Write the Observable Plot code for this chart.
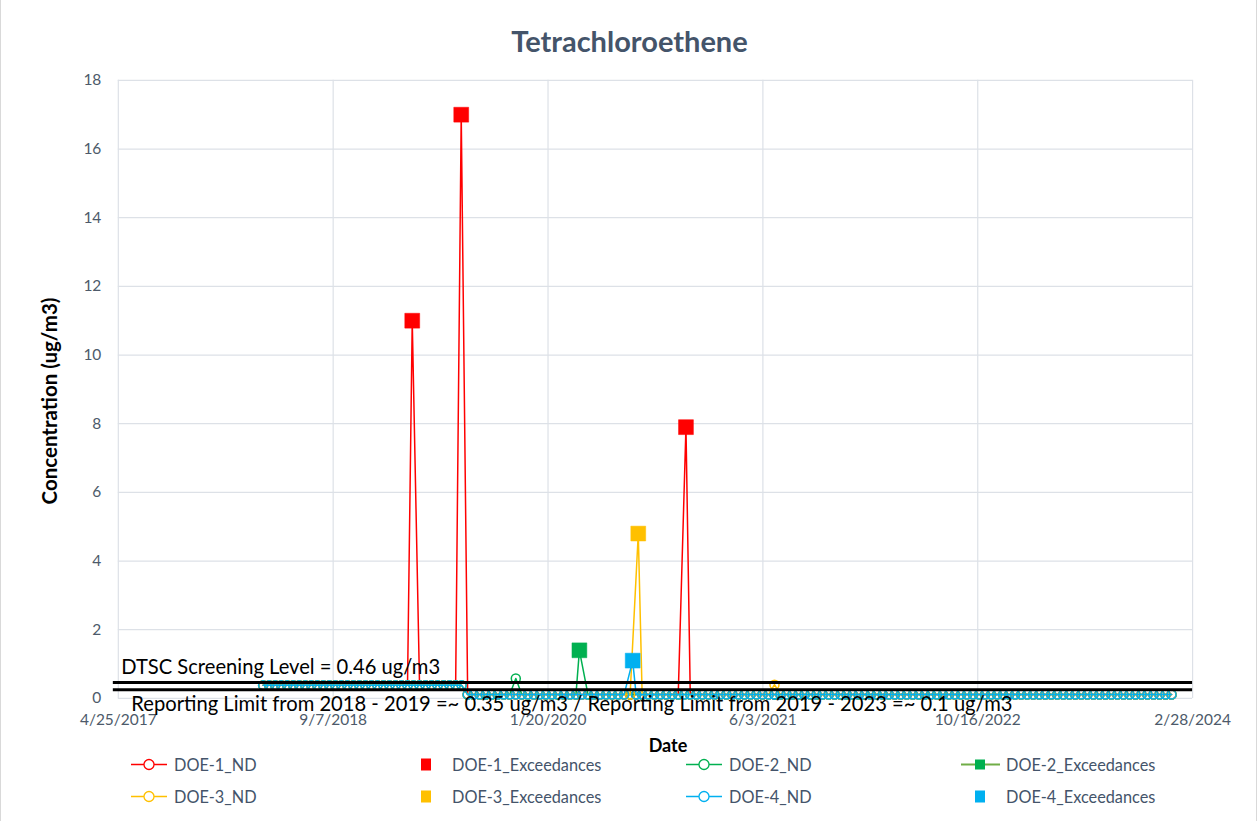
<!DOCTYPE html>
<html><head><meta charset="utf-8">
<script src="https://cdn.jsdelivr.net/npm/d3@7"></script>
<script src="https://cdn.jsdelivr.net/npm/@observablehq/plot@0.6"></script>
<style>
html,body{margin:0;padding:0;background:#fff;}
#wrap{position:relative;width:1257px;height:821px;overflow:hidden;font-family:Lato,"Open Sans",sans-serif;box-sizing:border-box;border-left:1px solid #d9d9d9;border-right:1px solid #d9d9d9;}
#chart{position:absolute;left:0;top:0;}
.title{position:absolute;left:0;width:1257px;top:40px;transform:translateY(-50%);text-align:center;font-weight:bold;font-size:29px;color:#44546a;}
.ylab{position:absolute;left:48px;top:401px;transform:translate(-50%,-50%) rotate(-90deg);font-weight:bold;font-size:20.5px;color:#000;white-space:nowrap;}
.xlab{position:absolute;left:667px;top:745px;transform:translate(-50%,-50%);font-weight:bold;font-size:18px;color:#000;}
.leg{position:absolute;display:flex;align-items:center;font-size:16.3px;color:#44546a;white-space:nowrap;transform:translateY(-50%);}
.leg svg{margin-right:6px;}
</style></head>
<body><div id="wrap"><div id="chart"></div></div>
<script>
// ---------------- data ----------------
const chartTitle = "Tetrachloroethene";
const yLabel = "Concentration (ug/m3)";
const xLabel = "Date";
const wells = ["DOE-1", "DOE-2", "DOE-3", "DOE-4"];
const wellColors = ["#FF0000", "#00B050", "#FFC000", "#00B0F0"];

const sampleDates = [
  "2018-03-28","2018-04-11","2018-04-25","2018-05-09","2018-05-23","2018-06-06","2018-06-20","2018-07-04","2018-07-18","2018-08-01",
  "2018-08-15","2018-08-29","2018-09-12","2018-09-26","2018-10-10","2018-10-24","2018-11-07","2018-11-21","2018-12-05","2018-12-19",
  "2019-01-02","2019-01-16","2019-01-30","2019-02-13","2019-02-27","2019-03-13","2019-03-27","2019-04-10","2019-04-24","2019-05-08",
  "2019-05-22","2019-06-05","2019-06-19","2019-07-03","2019-07-17","2019-07-31","2019-08-14","2019-08-28","2019-09-11","2019-09-25",
  "2019-10-09","2019-10-23","2019-11-06","2019-11-20","2019-12-04","2019-12-18",
  "2020-01-01","2020-01-15","2020-01-29","2020-02-12","2020-02-26","2020-03-11","2020-03-25","2020-04-08","2020-04-22","2020-05-06",
  "2020-05-20","2020-06-03","2020-06-17","2020-07-01","2020-07-15","2020-07-29","2020-08-12","2020-08-26","2020-09-09","2020-09-23",
  "2020-10-07","2020-10-21","2020-11-04","2020-11-18","2020-12-02","2020-12-16","2020-12-30",
  "2021-01-13","2021-01-27","2021-02-10","2021-02-24","2021-03-10","2021-03-24","2021-04-07","2021-04-21","2021-05-05","2021-05-19",
  "2021-06-02","2021-06-16","2021-06-30","2021-07-14","2021-07-28","2021-08-11","2021-08-25","2021-09-08","2021-09-22","2021-10-06",
  "2021-10-20","2021-11-03","2021-11-17","2021-12-01","2021-12-15","2021-12-29",
  "2022-01-12","2022-01-26","2022-02-09","2022-02-23","2022-03-09","2022-03-23","2022-04-06","2022-04-20","2022-05-04","2022-05-18",
  "2022-06-01","2022-06-15","2022-06-29","2022-07-13","2022-07-27","2022-08-10","2022-08-24","2022-09-07","2022-09-21","2022-10-05",
  "2022-10-19","2022-11-02","2022-11-16","2022-11-30","2022-12-14","2022-12-28",
  "2023-01-11","2023-01-25","2023-02-08","2023-02-22","2023-03-08","2023-03-22","2023-04-05","2023-04-19","2023-05-03","2023-05-17",
  "2023-05-31","2023-06-14","2023-06-28","2023-07-12","2023-07-26","2023-08-09","2023-08-23","2023-09-06","2023-09-20","2023-10-04",
  "2023-10-18","2023-11-01","2023-11-15","2023-11-29","2023-12-13","2023-12-27",
  "2024-01-10"
];

// non-detect values (ug/m3), one per sample date; null = exceedance on that event
const doe1ND = [
  .38,.38,.38,.38,.38, .38,.38,.38,.38,.38, .38,.38,.38,.38,.38, .38,.38,.38,.38,.38,
  .38,.38,.38,.38,.38, null,.38,.38,.38,.38, .38,.38,.38,null,.11, .11,.11,.11,.11,.11, .11,.11,.11,.11,.11, .11,
  .11,.11,.11,.11,.11, .11,.11,.11,.11,.11, .11,.11,.11,.11,.11, .11,.11,.11,.11,.11, .11,.11,.11,.11,null, .11,.11,
  .11,.11,.11,.11,.11, .11,.11,.11,.11,.11, .11,.11,.11,.11,.11, .11,.11,.11,.11,.11, .11,.11,.11,.11,.11, .11,
  .11,.11,.11,.11,.11, .11,.11,.11,.11,.11, .11,.11,.11,.11,.11, .11,.11,.11,.11,.11, .11,.11,.11,.11,.11, .11,
  .11,.11,.11,.11,.11, .11,.11,.11,.11,.11, .11,.11,.11,.11,.11, .11,.11,.11,.11,.11, .11,.11,.11,.11,.11, .11,
  .11
];
const doe2ND = [
  .38,.38,.38,.38,.38, .38,.38,.38,.38,.38, .38,.38,.38,.38,.38, .38,.38,.38,.38,.38,
  .38,.38,.38,.38,.38, .38,.38,.38,.38,.38, .38,.38,.38,.38,.11, .11,.11,.11,.11,.11, .11,.11,.58,.11,.11, .11,
  .11,.11,.11,.11,.11, .11,.11,null,.11,.11, .11,.11,.11,.11,.11, .11,.11,.11,.11,.11, .11,.11,.11,.11,.11, .11,.11,
  .11,.11,.11,.11,.11, .11,.11,.11,.11,.11, .11,.11,.11,.11,.11, .11,.11,.11,.11,.11, .11,.11,.11,.11,.11, .11,
  .11,.11,.11,.11,.11, .11,.11,.11,.11,.11, .11,.11,.11,.11,.11, .11,.11,.11,.11,.11, .11,.11,.11,.11,.11, .11,
  .11,.11,.11,.11,.11, .11,.11,.11,.11,.11, .11,.11,.11,.11,.11, .11,.11,.11,.11,.11, .11,.11,.11,.11,.11, .11,
  .11
];
const doe3ND = [
  .38,.38,.38,.38,.38, .38,.38,.38,.38,.38, .38,.38,.38,.38,.38, .38,.38,.38,.38,.38,
  .38,.38,.38,.38,.38, .38,.38,.38,.38,.38, .38,.38,.38,.38,.11, .11,.11,.11,.11,.11, .11,.11,.11,.11,.11, .11,
  .11,.11,.11,.11,.11, .11,.11,.11,.11,.11, .11,.11,.11,.11,.11, .11,null,.11,.11,.11, .11,.11,.11,.11,.11, .11,.11,
  .11,.11,.11,.11,.11, .11,.11,.11,.11,.11, .11,.11,.40,.11,.11, .11,.11,.11,.11,.11, .11,.11,.11,.11,.11, .11,
  .11,.11,.11,.11,.11, .11,.11,.11,.11,.11, .11,.11,.11,.11,.11, .11,.11,.11,.11,.11, .11,.11,.11,.11,.11, .11,
  .11,.11,.11,.11,.11, .11,.11,.11,.11,.11, .11,.11,.11,.11,.11, .11,.11,.11,.11,.11, .11,.11,.11,.11,.11, .11,
  .11
];
const doe4ND = [
  .38,.38,.38,.38,.38, .38,.38,.38,.38,.38, .38,.38,.38,.38,.38, .38,.38,.38,.38,.38,
  .38,.38,.38,.38,.38, .38,.38,.38,.38,.38, .38,.38,.38,.38,.11, .11,.11,.11,.11,.11, .11,.11,.11,.11,.11, .11,
  .11,.11,.11,.11,.11, .11,.11,.11,.11,.11, .11,.11,.11,.11,.11, null,.11,.11,.11,.11, .11,.11,.11,.11,.11, .11,.11,
  .11,.11,.11,.11,.11, .11,.11,.11,.11,.11, .11,.11,.11,.11,.11, .11,.11,.11,.11,.11, .11,.11,.11,.11,.11, .11,
  .11,.11,.11,.11,.11, .11,.11,.11,.11,.11, .11,.11,.11,.11,.11, .11,.11,.11,.11,.11, .11,.11,.11,.11,.11, .11,
  .11,.11,.11,.11,.11, .11,.11,.11,.11,.11, .11,.11,.11,.11,.11, .11,.11,.11,.11,.11, .11,.11,.11,.11,.11, .11,
  .11
];
const ndSeries = [doe1ND, doe2ND, doe3ND, doe4ND];

// exceedances
const exceedWell   = ["DOE-1", "DOE-1", "DOE-1", "DOE-2", "DOE-3", "DOE-4"];
const exceedDates  = ["2019-03-10", "2019-07-02", "2020-12-06", "2020-04-02", "2020-08-17", "2020-08-04"];
const exceedValues = [11, 17, 7.9, 1.4, 4.8, 1.1];

// reference lines
const refValues = [0.46, 0.25];
const refLabels = ["DTSC Screening Level = 0.46 ug/m3",
  "Reporting Limit from 2018 - 2019 =~ 0.35 ug/m3 / Reporting Limit from 2019 - 2023 =~ 0.1 ug/m3"];

// axes
const xDomain = ["2017-04-25", "2024-02-28"];
const xTickDates = ["2017-04-25", "2018-09-07", "2020-01-20", "2021-06-03", "2022-10-16", "2024-02-28"];
const yDomain = [0, 18];
const yTicks = [0, 2, 4, 6, 8, 10, 12, 14, 16, 18];

// ---------------- build ----------------
const P = s => new Date(s);
const ndRows = wells.flatMap((w, k) => sampleDates.map((d, i) => ({well: w, date: P(d), value: ndSeries[k][i]})).filter(r => r.value != null));
const excRows = exceedDates.map((d, i) => ({well: exceedWell[i], date: P(d), value: exceedValues[i]}));
const fmt = d => `${d.getUTCMonth() + 1}/${d.getUTCDate()}/${d.getUTCFullYear()}`;

const marks = [
  Plot.ruleY(yTicks, {stroke: "#dde1e7", strokeWidth: 1.2}),
  Plot.ruleX(xTickDates.map(P), {stroke: "#dde1e7", strokeWidth: 1.2}),
];
wells.forEach((w, k) => {
  const lineData = [...ndRows.filter(r => r.well === w), ...excRows.filter(r => r.well === w)].sort((a, b) => a.date - b.date);
  marks.push(Plot.line(lineData, {x: "date", y: "value", stroke: wellColors[k], strokeWidth: 1.5}));
  marks.push(Plot.dot(ndRows.filter(r => r.well === w), {x: "date", y: "value", r: 4.5, stroke: wellColors[k], fill: "none", strokeWidth: 1.5}));
});
wells.forEach((w, k) => {
  marks.push(Plot.dot(excRows.filter(r => r.well === w), {x: "date", y: "value", symbol: "square", r: 8.4, fill: wellColors[k], stroke: wellColors[k], strokeWidth: 0.5}));
});
marks.push(Plot.ruleY(refValues, {stroke: "#000", strokeWidth: 3, insetLeft: -5}));
marks.push(Plot.text([refLabels[0]], {text: d => d, y: refValues[0], frameAnchor: "left", textAnchor: "start", dx: 3, dy: -15, fill: "#000", fontSize: 20.2}));
marks.push(Plot.text([refLabels[1]], {text: d => d, y: refValues[1], frameAnchor: "left", textAnchor: "start", dx: 13, dy: 15, fill: "#000", fontSize: 20.2}));

const chart = Plot.plot({
  width: 1257, height: 735,
  marginLeft: 117, marginRight: 64, marginTop: 80, marginBottom: 36,
  style: {fontFamily: "Lato, 'Open Sans', sans-serif", fontSize: "15.5px", color: "#4d5a6a", background: "transparent", overflow: "visible"},
  x: {type: "utc", domain: xDomain.map(P), ticks: xTickDates.map(P), tickFormat: fmt, tickSize: 0, tickPadding: 16, label: null},
  y: {domain: yDomain, ticks: yTicks, tickSize: 0, tickPadding: 17, label: null},
  marks
});
document.getElementById("chart").appendChild(chart);

// ---------------- HTML text ----------------
const wrap = document.getElementById("wrap");
function add(cls, text) { const e = document.createElement("div"); e.className = cls; e.textContent = text; wrap.appendChild(e); return e; }
add("title", chartTitle);
add("ylab", yLabel);
add("xlab", xLabel);

// legend
const legendLeft = [130, 406, 685, 960];
const legendTop = [764, 796];
const legendItems = [];
wells.forEach((w, k) => {
  legendItems.push({label: w + "_ND", color: wellColors[k], kind: "nd"});
  legendItems.push({label: w + "_Exceedances", color: wellColors[k], kind: k === 1 ? "excLine" : "exc"});
});
legendItems.forEach((it, i) => {
  const col = i % 4, row = Math.floor(i / 4);
  const e = document.createElement("div");
  e.className = "leg";
  e.style.left = legendLeft[col] + "px";
  e.style.top = legendTop[row] + "px";
  let sw;
  if (it.kind === "nd") {
    sw = `<svg width="37" height="14"><line x1="0" x2="36" y1="7" y2="7" stroke="${it.color}" stroke-width="1.5"/><circle cx="18" cy="7" r="5" fill="#fff" stroke="${it.color}" stroke-width="1.3"/></svg>`;
  } else if (it.kind === "excLine") {
    sw = `<svg width="39" height="14"><line x1="0" x2="39" y1="7" y2="7" stroke="#70AD47" stroke-width="2"/><rect x="14" y="2" width="10" height="10" fill="${it.color}"/></svg>`;
  } else {
    sw = `<svg width="39" height="14"><rect x="14" y="1" width="10" height="12" fill="${it.color}"/></svg>`;
  }
  e.innerHTML = sw + `<span>${it.label}</span>`;
  wrap.appendChild(e);
});
</script>
</body></html>
